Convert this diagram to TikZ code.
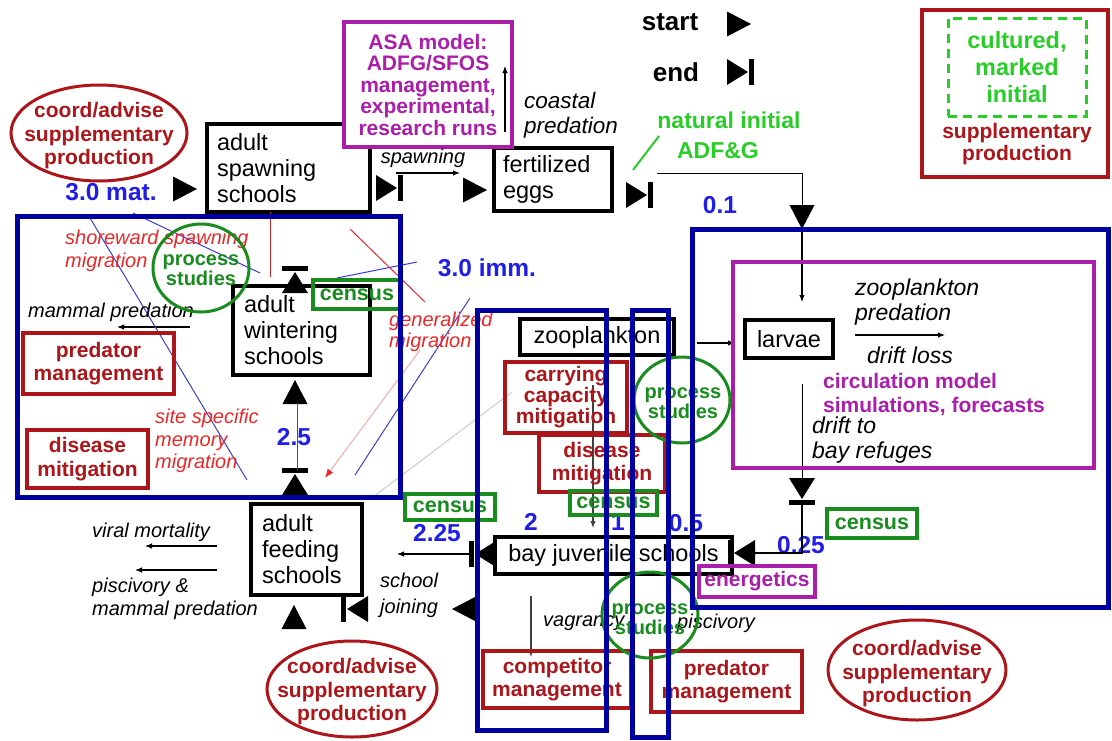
\documentclass[tikz,border=0pt]{standalone}
\usepackage{fontspec}
\setmainfont{Liberation Sans}
\usetikzlibrary{arrows.meta}
\definecolor{dred}{RGB}{172,22,26}
\definecolor{navy}{RGB}{0,0,160}
\definecolor{numblue}{RGB}{30,30,230}
\definecolor{dgreen}{RGB}{25,140,30}
\definecolor{lgreen}{RGB}{40,205,40}
\definecolor{purp}{RGB}{170,30,170}
\definecolor{ired}{RGB}{235,40,40}
\definecolor{thinblue}{RGB}{60,60,220}
\tikzset{
 starttri/.pic={\fill (-12,-12.5) -- (12,0) -- (-12,12.5) -- cycle;},
 endtri/.pic={\fill (-13,-13) -- (8,0) -- (-13,13) -- cycle; \fill (9,-13) rectangle (14,13);},
}
\begin{document}
\begin{tikzpicture}[x=1pt,y=-1pt,
  bbox/.style={draw=black, line width=3.5pt, inner xsep=10pt, inner ysep=0pt, align=left, font=\fontsize{23.5}{26}\selectfont},
  rbox/.style={draw=dred, line width=3.5pt, text=dred, inner sep=0pt, align=center, font=\fontsize{21}{23.5}\selectfont\bfseries},
  gbox/.style={draw=dgreen, line width=3.5pt, text=dgreen, inner sep=0pt, font=\fontsize{21.5}{24}\selectfont\bfseries},
  pbox/.style={draw=purp, line width=3.5pt, text=purp, inner sep=0pt, align=center, font=\fontsize{21}{21.5}\selectfont\bfseries},
  region/.style={draw=navy, line width=5pt, inner sep=0pt},
  ell/.style={line width=3pt},
  bold21/.style={inner sep=0pt, align=center, font=\fontsize{21}{23.5}\selectfont\bfseries},
  numlab/.style={text=numblue, inner sep=0pt, font=\fontsize{24.5}{25}\selectfont\bfseries},
  itl/.style={inner sep=0pt, align=left, font=\fontsize{20}{22.5}\selectfont\itshape},
  itlb/.style={inner sep=0pt, align=left, font=\fontsize{23}{25}\selectfont\itshape},
  ritl/.style={itl, text=ired},
  procf/.style={inner sep=0pt, align=center, text=dgreen, font=\fontsize{20}{18.5}\selectfont\bfseries},
  flowarr/.style={-{Latex[length=7pt,width=5.5pt]}, line width=1.1pt},
  thinln/.style={line width=1pt},
]
\fill[white] (0,0) rectangle (1112,740);
\useasboundingbox (0,0) rectangle (1112,740);

% ---------- black state boxes
\node[bbox, text width=143pt, minimum height=88pt] (spawn) at (288.5,168) {adult\\spawning\\schools};
\node[bbox, inner xsep=9pt, text width=100pt, minimum height=63pt] (eggs) at (553,179.5) {fertilized\\eggs};
\node[bbox, inner xsep=11pt, text width=115pt, minimum height=89pt] (winter) at (301.5,330.5) {adult\\wintering\\schools};
\node[bbox, inner xsep=11pt, text width=89pt, minimum height=91pt] (feed) at (306.5,549.5) {adult\\feeding\\schools};
\node[bbox, align=center, inner xsep=0pt, minimum width=154pt, minimum height=36pt] (zoo) at (597,337) {zooplankton};
\node[bbox, align=center, inner xsep=0pt, minimum width=88pt, minimum height=38pt] (larvae) at (789,339) {larvae};
\node[bbox, align=center, inner xsep=0pt, minimum width=237pt, minimum height=37pt] (bay) at (613.5,555.5) {bay juvenile schools};

% ---------- ASA model box
\node[pbox, fill=white, minimum width=168pt, minimum height=125pt] (asa) at (428,84.5) {ASA model:\\ADFG/SFOS\\management,\\experimental,\\research runs};
\coordinate (asaA) at (505,132); \coordinate (asaB) at (505,66);
\draw[flowarr] (asaA) -- (asaB);

% ---------- legend
\node[inner sep=0pt, font=\fontsize{26}{26}\selectfont\bfseries] (startlbl) at (670,22) {start};
\node[inner sep=0pt, font=\fontsize{26}{26}\selectfont\bfseries] (endlbl) at (676,72) {end};
\pic at (739,24) {starttri};
\pic at (740,72) {endtri};

% ---------- supplementary production box
\node[draw=dred, line width=3.5pt, minimum width=186pt, minimum height=167pt, inner sep=0pt] (suppbox) at (1015,93.5) {};
\node[draw=lgreen, line width=3pt, dash pattern=on 9pt off 6pt, text=lgreen, inner sep=0pt, minimum width=138pt, minimum height=98pt, align=center, font=\fontsize{23.5}{27}\selectfont\bfseries] (cult) at (1017,67) {cultured,\\marked\\initial};
\node[bold21, text=dred, font=\fontsize{21}{22.5}\selectfont\bfseries] (supptxt) at (1017,144) {supplementary\\production};

% ---------- top texts
\node[itlb, font=\fontsize{22.5}{25}\selectfont\itshape, anchor=west] (coastal) at (524,115.5) {coastal\\predation};
\node[inner sep=0pt, align=center, text=lgreen, font=\fontsize{23}{30}\selectfont\bfseries] (natural) at (729,135) {natural initial\\ADF\&G\hspace*{22pt}};
\coordinate (slashA) at (633,170); \coordinate (slashB) at (659,136);
\draw[lgreen, line width=2pt] (slashA) -- (slashB);

% ---------- numbers
\node[numlab] (n01) at (720,205) {0.1};
\node[numlab] (nmat) at (111,192) {3.0 mat.};
\node[numlab] (nimm) at (487,268) {3.0 imm.};
\node[numlab] (n25) at (294,437) {2.5};
\node[numlab] (n225) at (437,533) {2.25};
\node[numlab] (n2) at (531,522) {2};
\node[numlab] (n1) at (618,522) {1};
\node[numlab] (n05) at (686,523) {0.5};
\node[numlab] (n025) at (801,545) {0.25};

% ---------- coord/advise ellipses
\node[bold21, text=dred] (coordA) at (99,136) {coord/advise\\supplementary\\production};
\draw[dred, ell] (coordA.center) ++(0,-3) ellipse [x radius=88pt, y radius=48pt];
\node[bold21, text=dred] (coordB) at (352,692) {coord/advise\\supplementary\\production};
\draw[dred, ell] (coordB.center) ++(0,-3) ellipse [x radius=85pt, y radius=48pt];
\node[bold21, text=dred] (coordC) at (917,674) {coord/advise\\supplementary\\production};
\draw[dred, ell] (coordC.center) ++(0,-4) ellipse [x radius=89pt, y radius=50pt];

% ---------- start / end markers
\pic at (185,189) {starttri};
\pic at (389,188) {endtri};
\pic at (475,190) {starttri};
\pic at (639,195) {endtri};
\pic[rotate=-90] at (802,217) {starttri};
\pic[rotate=90] at (295,280) {endtri};
\pic[rotate=90] at (295,392) {starttri};
\pic[rotate=90] at (295,482) {endtri};
\pic[rotate=-90] at (802,491) {endtri};
\pic[rotate=180] at (742,553) {endtri};
\pic[rotate=180] at (483,554) {endtri};
\pic[rotate=180] at (355,609) {endtri};
\pic[rotate=180] at (464,609) {starttri};
\pic[rotate=90] at (294,617) {starttri};

% ---------- flows
\node[itl] (spawnlbl) at (423,158) {spawning};
\coordinate (spA) at (396,173); \coordinate (spB) at (460,173);
\draw[flowarr] (spA) -- (spB);

\coordinate (elA) at (657,173); \coordinate (elB) at (802,206);
\draw[thinln] (elA) -| (elB);
\coordinate (elC) at (802,229); \coordinate (larvTop) at (802,302);
\draw[flowarr] (elC) -- (larvTop);

\coordinate (lzA) at (855,335); \coordinate (lzB) at (945,335);
\draw[flowarr] (lzA) -- (lzB);
\node[itlb, anchor=west] (zpred) at (855,302.5) {zooplankton\\predation};
\node[itlb, anchor=west] (drloss) at (867,355) {drift loss};
\node[inner sep=0pt, align=left, anchor=west, text=purp, font=\fontsize{21}{24}\selectfont\bfseries] (circ) at (823,394.5) {circulation model\\simulations, forecasts};
\node[itlb, anchor=west] (drift) at (812,440.5) {drift to\\bay refuges};

\coordinate (ldA) at (802,384); \coordinate (ldB) at (802,481);
\draw[thinln] (ldA) -- (ldB);
\coordinate (ldC) at (802,505); \coordinate (ldD) at (748,553);
\draw[flowarr] (ldC) |- (ldD);

\coordinate (zlA) at (697,343); \coordinate (zlB) at (735,343);
\draw[flowarr] (zlA) -- (zlB);

\coordinate (zbA) at (593,385); \coordinate (zbB) at (593,528);
\draw[flowarr, black!75] (zbA) -- (zbB);

\coordinate (bfA) at (470,554); \coordinate (bfB) at (397,554);
\draw[flowarr] (bfA) -- (bfB);

\coordinate (fvA) at (217,546); \coordinate (fvB) at (145,546);
\draw[flowarr] (fvA) -- (fvB);
\coordinate (fpA) at (217,570); \coordinate (fpB) at (135,570);
\draw[flowarr] (fpA) -- (fpB);

\coordinate (wmA) at (190,327); \coordinate (wmB) at (117,327);
\draw[flowarr] (wmA) -- (wmB);

\coordinate (bcA) at (531,596); \coordinate (bcB) at (531,657);
\draw[flowarr, black!75] (bcA) -- (bcB);

% ---------- migration lines
\coordinate (rsA) at (270,212); \coordinate (rsB) at (270,277);
\draw[ired!85!black, thinln] (rsA) -- (rsB);
\coordinate (rwA) at (297,403); \coordinate (rwB) at (297,470);
\draw[ired!85!black, thinln] (rwA) -- (rwB);
\coordinate (bl1A) at (133,213); \coordinate (bl1B) at (260,273);
\draw[thinblue, thinln] (bl1A) -- (bl1B);
\coordinate (bl2A) at (90,218); \coordinate (bl2B) at (247,480);
\draw[thinblue, thinln] (bl2A) -- (bl2B);
\coordinate (bl3A) at (417,262); \coordinate (bl3B) at (337,278);
\draw[thinblue, thinln] (bl3A) -- (bl3B);
\coordinate (bl4A) at (470,298); \coordinate (bl4B) at (355,475);
\draw[thinblue, thinln] (bl4A) -- (bl4B);
\coordinate (gmA) at (350,229); \coordinate (gmB) at (425,302);
\draw[ired, thinln] (gmA) -- (gmB);
\coordinate (pkA) at (420,350); \coordinate (pkB) at (325,478);
\draw[ired!40, thinln, -{Latex[length=9pt,width=7pt,color=ired]}] (pkA) -- (pkB);
\coordinate (gyA) at (512,392); \coordinate (gyB) at (373,497);
\draw[black!20, thinln] (gyA) -- (gyB);

% ---------- italic labels
\node[ritl, anchor=west] (shore) at (65,251) {shoreward spawning\\migration};
\node[ritl, anchor=west] (site) at (155,441) {site specific\\memory\\migration};
\node[ritl, anchor=west, font=\fontsize{20}{21}\selectfont\itshape] (gen) at (389,332) {generalized\\migration};
\node[itl, anchor=west] (mammal) at (28,312) {mammal predation};
\node[itl, anchor=west] (viral) at (92,532) {viral mortality};
\node[itl, anchor=west] (pisc) at (92,599) {piscivory \&\\mammal predation};
\node[itl, anchor=west, font=\fontsize{20}{26}\selectfont\itshape] (school) at (380,595) {school\\joining};
\node[itl, anchor=west] (vagr) at (543,623) {vagrancy};
\node[itl, anchor=west] (piscv) at (677,623) {piscivory};

% ---------- management boxes
\node[rbox, minimum width=151pt, minimum height=61pt] (predL) at (98.5,363.5) {predator\\management};
\node[rbox, minimum width=121pt, minimum height=58pt] (disL) at (87.5,459) {disease\\mitigation};
\node[rbox, minimum width=122pt, minimum height=71pt, font=\fontsize{21}{21}\selectfont\bfseries] (carry) at (566,397.5) {carrying\\capacity\\mitigation};
\node[rbox, minimum width=126pt, minimum height=57pt] (disM) at (602,463.5) {disease\\mitigation};
\node[rbox, minimum width=148pt, minimum height=57pt] (comp) at (557,679.5) {competitor\\management};
\node[rbox, minimum width=151pt, minimum height=61pt] (predB) at (726.5,681.5) {predator\\management};

% ---------- census / energetics
\node[gbox, minimum width=88pt, minimum height=29pt] (cen1) at (357,294.5) {census};
\node[gbox, minimum width=90pt, minimum height=26pt] (cen2) at (450,507) {census};
\node[gbox, minimum width=87pt, minimum height=24pt] (cen3) at (613.5,503) {census};
\node[gbox, minimum width=90pt, minimum height=29pt] (cen4) at (872,523.5) {census};
\node[pbox, minimum width=116pt, minimum height=31pt] (energ) at (757,581.5) {energetics};

% ---------- process studies
\node[procf] (proc1) at (201,270) {process\\studies};
\draw[dgreen, ell] (proc1.center) ++(0,-2) ellipse [x radius=48pt, y radius=44pt];
\node[procf] (proc2) at (683,403) {process\\studies};
\draw[dgreen, ell] (proc2.center) ++(-1,-3) ellipse [x radius=48pt, y radius=43pt];
\node[procf] (proc3) at (650,619) {process\\studies};
\draw[dgreen, ell] (proc3.center) ++(0,-4) ellipse [x radius=48pt, y radius=43pt];

% ---------- regions
\node[region, minimum width=383pt, minimum height=281pt] (regL) at (208.5,356.5) {};
\node[region, minimum width=416pt, minimum height=378pt] (regR) at (900,418) {};
\node[draw=purp, line width=3.5pt, inner sep=0pt, minimum width=361pt, minimum height=206pt] (regP) at (913.5,365) {};
\node[region, minimum width=129pt, minimum height=420pt] (regTa) at (541.5,520) {};
\node[region, minimum width=36pt, minimum height=427pt] (regTb) at (650,523.5) {};
\end{tikzpicture}
\end{document}
